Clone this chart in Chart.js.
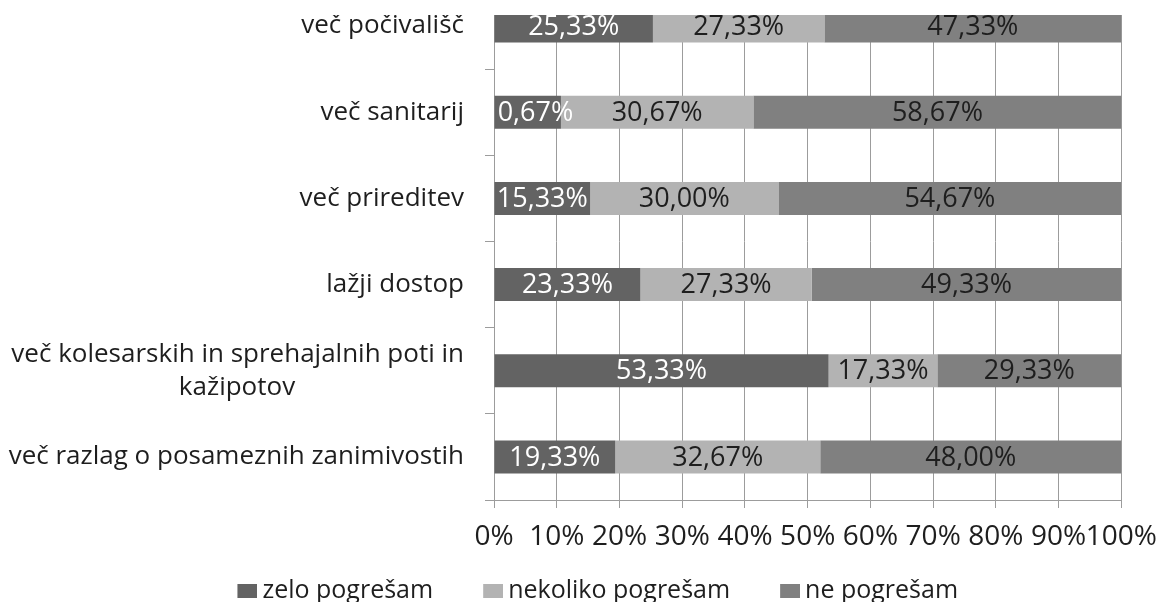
<!DOCTYPE html>
<html>
<head>
<meta charset="utf-8">
<script src="https://cdn.jsdelivr.net/npm/chart.js@4.4.1/dist/chart.umd.min.js"></script>
<style>
  html, body { margin: 0; padding: 0; background: #fff; }
  #frame { position: absolute; left: 0; top: 15px; width: 1169px; height: 587px; overflow: hidden; }
  #chart { position: absolute; left: 0; top: -32px; }
</style>
</head>
<body>
<div id="frame"><canvas id="chart" width="1169" height="660"></canvas></div>
<script>
const categories = [
  'več počivališč',
  'več sanitarij',
  'več prireditev',
  'lažji dostop',
  ['več kolesarskih in sprehajalnih poti in', 'kažipotov' + '\u00a0'.repeat(25)],
  'več razlag o posameznih zanimivostih'
];
const seriesNames = ['zelo pogrešam', 'nekoliko pogrešam', 'ne pogrešam'];
const zeloValues = [25.33, 10.67, 15.33, 23.33, 53.33, 19.33];
const nekolikoValues = [27.33, 30.67, 30.00, 27.33, 17.33, 32.67];
const neValues = [47.33, 58.67, 54.67, 49.33, 29.33, 48.00];
const xTicks = [0, 10, 20, 30, 40, 50, 60, 70, 80, 90, 100];

const barColors = ['#636363', '#b3b3b3', '#808080'];
const labelColors = ['#ffffff', '#1e1e1e', '#1e1e1e'];
const FONT = '"Open Sans", "DejaVu Sans", sans-serif';
const gridGray = '#9c9c9c';

const fmt = v => v.toFixed(2).replace('.', ',') + '%';

// legend swatch: square sits at the right of a wider image so it ends close to the text
function swatch(color) {
  const c = document.createElement('canvas');
  c.width = 35;
  c.height = 14;
  const g = c.getContext('2d');
  g.fillStyle = color;
  g.fillRect(15, 0, 20, 14);
  return c;
}
const swatches = barColors.map(swatch);

// value labels in the middle of each segment, clipped to the plot
const segmentLabels = {
  id: 'segmentLabels',
  afterDatasetsDraw(chart) {
    const { ctx, chartArea } = chart;
    ctx.save();
    ctx.beginPath();
    ctx.rect(chartArea.left, chartArea.top, chartArea.width, chartArea.height);
    ctx.clip();
    ctx.font = '27px ' + FONT;
    ctx.textAlign = 'center';
    ctx.textBaseline = 'middle';
    chart.data.datasets.forEach((ds, i) => {
      chart.getDatasetMeta(i).data.forEach((bar, j) => {
        const p = bar.getProps(['x', 'y', 'base'], true);
        ctx.fillStyle = labelColors[i];
        ctx.fillText(fmt(ds.data[j]), (p.x + p.base) / 2, p.y + 1);
      });
    });
    ctx.restore();
  }
};

// legend is centred on the whole page and sits a little closer to the axis
const legendShift = {
  id: 'legendShift',
  afterLayout(chart) {
    const lg = chart.legend;
    lg.left += 28;
    lg.right += 28;
    lg.top -= 14;
    lg.bottom -= 14;
  }
};

const allValues = [zeloValues, nekolikoValues, neValues];

new Chart(document.getElementById('chart'), {
  type: 'bar',
  data: {
    labels: categories,
    datasets: seriesNames.map((name, i) => ({
      label: name,
      data: allValues[i],
      backgroundColor: barColors[i],
      borderWidth: 0,
      barPercentage: 0.383,
      categoryPercentage: 1
    }))
  },
  options: {
    indexAxis: 'y',
    responsive: false,
    animation: false,
    layout: { padding: { left: 0, right: 37, top: 0, bottom: 15.5 } },
    scales: {
      x: {
        stacked: true,
        min: 0,
        max: 100,
        afterBuildTicks: scale => { scale.ticks = xTicks.map(v => ({ value: v })); },
        afterFit: scale => { scale.height = 50; },
        grid: { color: gridGray, lineWidth: 1, tickLength: 8 },
        border: { color: gridGray, width: 1 },
        ticks: {
          callback: v => v + '%',
          color: '#1e1e1e',
          font: { family: FONT, size: 28 },
          padding: 12,
          maxRotation: 0,
          autoSkip: false
        }
      },
      y: {
        stacked: true,
        offset: true,
        afterFit: scale => {
          scale.width = 494;
          scale.paddingTop = 0;
          scale.paddingBottom = 0;
        },
        grid: { offset: true, drawOnChartArea: false, color: gridGray, tickLength: 9 },
        border: { color: gridGray, width: 1 },
        ticks: {
          color: '#1e1e1e',
          font: { family: FONT, size: 26, lineHeight: 1.27 },
          padding: 21,
          autoSkip: false
        }
      }
    },
    plugins: {
      legend: {
        position: 'bottom',
        labels: {
          usePointStyle: true,
          pointStyleWidth: 20,
          boxWidth: 20,
          boxHeight: 14,
          padding: 42.5,
          color: '#1e1e1e',
          font: { family: FONT, size: 25 },
          generateLabels: chart =>
            Chart.defaults.plugins.legend.labels.generateLabels(chart)
              .map((item, i) => ({ ...item, pointStyle: swatches[i] }))
        }
      },
      tooltip: { enabled: false }
    }
  },
  plugins: [segmentLabels, legendShift]
});
</script>
</body>
</html>
